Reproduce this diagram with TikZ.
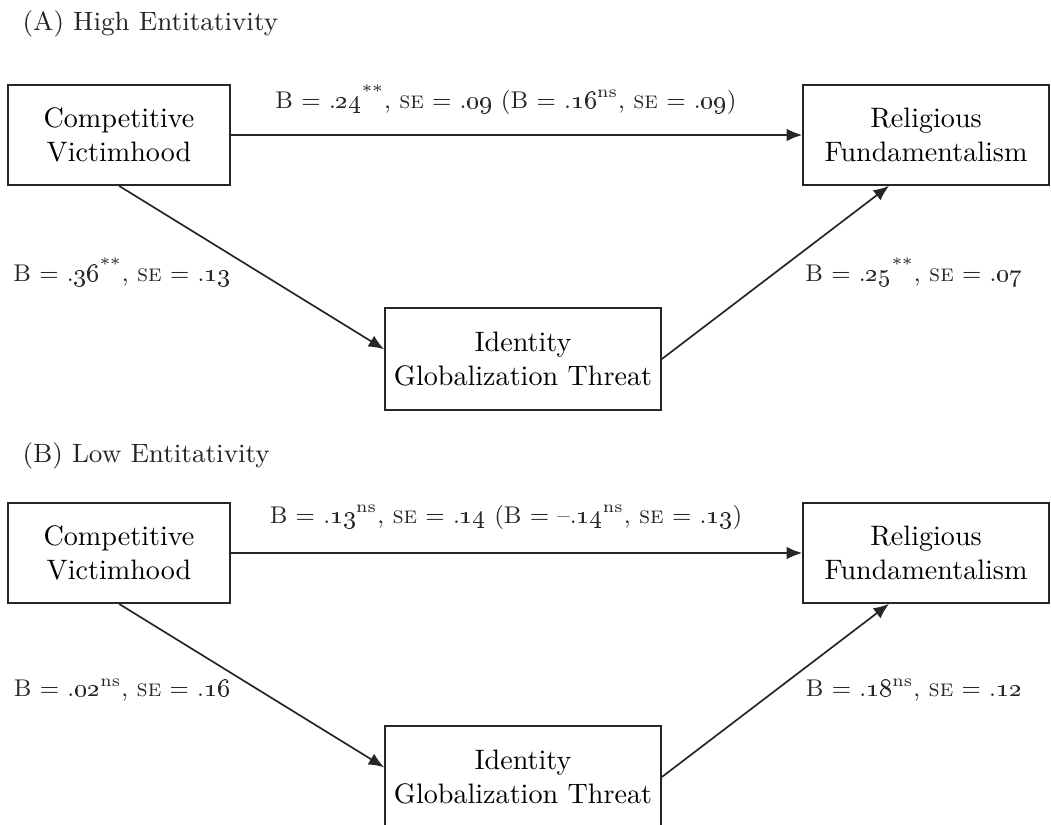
\documentclass[tikz,border=0pt]{standalone}
\usepackage{tikz}
\usetikzlibrary{shapes,arrows.meta,positioning}

% old-style figures for the estimates
\newcommand{\osn}[1]{\oldstylenums{#1}}

\begin{document}
\begin{tikzpicture}[
    x=0.0125cm, y=-0.0125cm,
    construct/.style={
        rectangle,
        draw=black!85,
        line width=0.6pt,
        minimum height=1.25cm,
        align=center,
        inner sep=2pt
    },
    effect/.style={
        -{Latex[length=5.5pt,width=4.5pt]},
        line width=0.6pt,
        draw=black!85
    },
    coef/.style={inner sep=0pt, text=black!85, font=\fontsize{8.6}{10}\selectfont},
    panel/.style={anchor=west, inner sep=0pt, text=black!85, font=\fontsize{9.4}{11}\selectfont}
]

    % Page frame (the lower box is cut by the page edge)
    \clip (0,0) rectangle (1051,825);

    % ---------------- Panel A ----------------
    \node[panel] (headA) at (22,24) {(A) High Entitativity};

    % Predictor, outcome and mediator
    \node[construct, minimum width=2.775cm] (victimA) at (119,135) {Competitive\\Victimhood};
    \node[construct, minimum width=3.075cm] (fundA) at (926,135) {Religious\\Fundamentalism};
    \node[construct, minimum width=3.45cm, minimum height=1.275cm] (threatA) at (523,359) {Identity\\Globalization Threat};

    % Paths
    \draw[effect] (victimA.east) -- (fundA.west);
    \draw[effect] (victimA.south) -- (threatA.176);
    \draw[effect] (threatA.east) -- (fundA.234);

    % Coefficients
    \node[coef] (directA) at (506,100) {B = .\osn{24}\textsuperscript{**}, \textsc{se} = .\osn{09} (B = .\osn{16}\textsuperscript{ns}, \textsc{se} = .\osn{09})};
    \node[coef] (aA) at (122,272) {B = .\osn{36}\textsuperscript{**}, \textsc{se} = .\osn{13}};
    \node[coef] (bA) at (914,272) {B = .\osn{25}\textsuperscript{**}, \textsc{se} = .\osn{07}};

    % ---------------- Panel B ----------------
    \node[panel] (headB) at (22,456) {(B) Low Entitativity};

    % Predictor, outcome and mediator
    \node[construct, minimum width=2.775cm] (victimB) at (119,553) {Competitive\\Victimhood};
    \node[construct, minimum width=3.075cm] (fundB) at (926,553) {Religious\\Fundamentalism};
    \node[construct, minimum width=3.45cm, minimum height=1.275cm] (threatB) at (523,777) {Identity\\Globalization Threat};

    % Paths
    \draw[effect] (victimB.east) -- (fundB.west);
    \draw[effect] (victimB.south) -- (threatB.176);
    \draw[effect] (threatB.east) -- (fundB.234);

    % Coefficients
    \node[coef] (directB) at (506,517) {B = .\osn{13}\textsuperscript{ns}, \textsc{se} = .\osn{14} (B = --.\osn{14}\textsuperscript{ns}, \textsc{se} = .\osn{13})};
    \node[coef] (aB) at (122,690) {B = .\osn{02}\textsuperscript{ns}, \textsc{se} = .\osn{16}};
    \node[coef] (bB) at (914,690) {B = .\osn{18}\textsuperscript{ns}, \textsc{se} = .\osn{12}};

\end{tikzpicture}
\end{document}
